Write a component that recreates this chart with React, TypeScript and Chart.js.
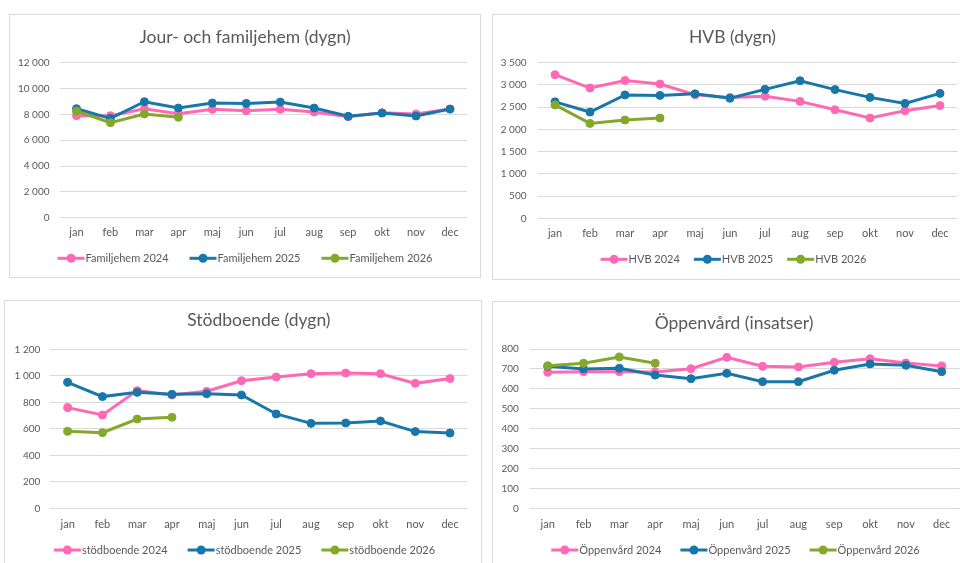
import React, { useEffect, useRef } from "react";
import { Chart, registerables } from "chart.js";

Chart.register(...registerables);

const months = ["jan", "feb", "mar", "apr", "maj", "jun", "jul", "aug", "sep", "okt", "nov", "dec"];

const fam2024 = [7900, 7900, 8440, 8050, 8390, 8280, 8390, 8180, 7820, 8130, 8030, 8410];
const fam2025 = [8440, 7690, 8980, 8490, 8880, 8850, 8950, 8490, 7850, 8100, 7870, 8410];
const fam2026 = [8260, 7350, 8030, 7770];

const hvb2024 = [3230, 2930, 3100, 3020, 2780, 2720, 2745, 2630, 2440, 2255, 2420, 2535];
const hvb2025 = [2620, 2390, 2775, 2765, 2800, 2700, 2900, 3095, 2895, 2720, 2585, 2810];
const hvb2026 = [2550, 2135, 2210, 2255];

const stod2024 = [760, 704, 888, 855, 883, 963, 991, 1016, 1021, 1016, 943, 979];
const stod2025 = [951, 843, 875, 860, 865, 855, 712, 641, 644, 659, 579, 568];
const stod2026 = [581, 571, 674, 687];

const opp2024 = [683, 686, 686, 685, 701, 758, 713, 710, 733, 751, 730, 715];
const opp2025 = [713, 700, 703, 669, 651, 678, 636, 636, 693, 725, 718, 686];
const opp2026 = [716, 728, 760, 728];

const PINK = "#ff69b4";
const BLUE = "#1877a8";
const GREEN = "#84a82a";
const COLORS = [PINK, BLUE, GREEN];
const TEXT = "#595959";
const GRID = "#d9d9d9";
const FONT = "Lato, 'Open Sans', sans-serif";

const TITLE_FS = 17.5;
const LEG_FS = 11;
const TICK_FS = 10;
const XTICK_FS = 11;
const X_AXIS_H = 26;
const LEG_LINE = 27;

function fmt(v: number | string) {
  return String(v).replace(/\B(?=(\d{3})+(?!\d))/g, " ");
}

type PanelCfg = {
  left: number; top: number; W: number; H: number;
  title: string; titleFull: boolean;
  labels: string[]; series: number[][]; seriesNames: string[];
  max: number; step: number;
  plotL: number; plotR: number; plotT: number; plotB: number;
  titleY: number; xLabelY: number; legendY: number; legendX: number; legendGap: number; yPad: number;
};

function Panel({ cfg }: { cfg: PanelCfg }) {
  const ref = useRef<HTMLCanvasElement>(null);
  useEffect(() => {
    const { W, H } = cfg;
    const padR = W - cfg.plotR;
    const titleLH = TITLE_FS * 1.2;
    const titlePadTop = cfg.titleY - titleLH / 2;
    const titlePadBottom = cfg.plotT - (cfg.titleY + titleLH / 2);
    const padB = H - cfg.plotB - X_AXIS_H;
    const xPad = cfg.xLabelY - cfg.plotB - (XTICK_FS * 1.2) / 2;

    const lineLegend = {
      id: "lineLegend",
      afterDraw(chart: any) {
        const ctx = chart.ctx as CanvasRenderingContext2D;
        ctx.save();
        ctx.font = `${LEG_FS}px ${FONT}`;
        const names = cfg.seriesNames;
        const widths = names.map((n) => ctx.measureText(n).width);
        const total =
          widths.reduce((a, w) => a + LEG_LINE + 1 + w, 0) + cfg.legendGap * (names.length - 1);
        let x = cfg.legendX - total / 2;
        const y = cfg.legendY;
        names.forEach((n, i) => {
          const c = COLORS[i];
          ctx.strokeStyle = c;
          ctx.lineWidth = 3;
          ctx.beginPath();
          ctx.moveTo(x, y);
          ctx.lineTo(x + LEG_LINE, y);
          ctx.stroke();
          ctx.fillStyle = c;
          ctx.beginPath();
          ctx.arc(x + LEG_LINE / 2, y, 4.5, 0, Math.PI * 2);
          ctx.fill();
          ctx.fillStyle = TEXT;
          ctx.textAlign = "left";
          ctx.textBaseline = "middle";
          ctx.fillText(n, x + LEG_LINE + 1, y);
          x += LEG_LINE + 1 + widths[i] + cfg.legendGap;
        });
        ctx.restore();
      },
    };

    const chart = new Chart(ref.current!, {
      type: "line",
      data: {
        labels: cfg.labels,
        datasets: cfg.series.map((d, i) => ({
          label: cfg.seriesNames[i],
          data: d,
          yAxisID: "y",
          borderColor: COLORS[i],
          backgroundColor: COLORS[i],
          pointBackgroundColor: COLORS[i],
          pointBorderColor: COLORS[i],
          borderWidth: 3,
          pointRadius: 4,
          pointBorderWidth: 1,
          tension: 0,
          order: 3 - i,
        })),
      },
      options: {
        animation: false,
        responsive: true,
        maintainAspectRatio: false,
        layout: { padding: { left: 0, right: 0, top: 0, bottom: padB } },
        scales: {
          x: {
            offset: true,
            grid: { display: false, drawTicks: false },
            border: { display: false },
            ticks: { color: TEXT, font: { family: FONT, size: XTICK_FS }, padding: xPad, maxRotation: 0, autoSkip: false },
            afterFit: (s: any) => { s.height = X_AXIS_H; },
          },
          y: {
            min: 0,
            max: cfg.max,
            grid: { color: GRID, lineWidth: 1, drawTicks: false },
            border: { display: false },
            ticks: {
              stepSize: cfg.step,
              color: TEXT,
              font: { family: FONT, size: TICK_FS },
              padding: cfg.yPad,
              callback: (v: any) => fmt(v),
            },
            afterFit: (s: any) => { s.width = cfg.plotL; },
          },
          yR: {
            position: "right",
            display: true,
            grid: { display: false, drawTicks: false },
            border: { display: false },
            ticks: { display: false },
            afterFit: (s: any) => { s.width = padR; },
          },
        },
        plugins: {
          tooltip: { enabled: false },
          legend: { display: false },
          title: {
            display: true,
            text: cfg.title,
            color: TEXT,
            fullSize: cfg.titleFull,
            font: { family: FONT, size: TITLE_FS, weight: "normal" },
            padding: { top: titlePadTop, bottom: titlePadBottom },
          },
        },
      } as any,
      plugins: [lineLegend],
    });
    return () => chart.destroy();
  }, []);
  return (
    <div
      style={{
        position: "absolute",
        left: cfg.left,
        top: cfg.top,
        width: cfg.W + 2,
        height: cfg.H + 2,
        border: `1px solid ${GRID}`,
        boxSizing: "border-box",
        background: "#fff",
      }}
    >
      <div style={{ position: "relative", width: cfg.W, height: cfg.H }}>
        <canvas ref={ref} />
      </div>
    </div>
  );
}

const panels: PanelCfg[] = [
  {
    left: 9, top: 14, W: 470, H: 262,
    title: "Jour- och familjehem (dygn)", titleFull: true,
    labels: months, series: [fam2024, fam2025, fam2026],
    seriesNames: ["Familjehem 2024", "Familjehem 2025", "Familjehem 2026"],
    max: 12000, step: 2000,
    plotL: 49.5, plotR: 457, plotT: 47.7, plotB: 202.7,
    titleY: 22, xLabelY: 217.7, legendY: 243.3, legendX: 235, legendGap: 21, yPad: 10,
  },
  {
    left: 492, top: 14, W: 479, H: 264,
    title: "HVB (dygn)", titleFull: true,
    labels: months, series: [hvb2024, hvb2025, hvb2026],
    seriesNames: ["HVB 2024", "HVB 2025", "HVB 2026"],
    max: 3500, step: 500,
    plotL: 44.5, plotR: 464.5, plotT: 47.7, plotB: 203.3,
    titleY: 22.3, xLabelY: 218.3, legendY: 244.3, legendX: 240.5, legendGap: 14, yPad: 11,
  },
  {
    left: 4, top: 300, W: 476, H: 270,
    title: "Stödboende (dygn)", titleFull: false,
    labels: months, series: [stod2024, stod2025, stod2026],
    seriesNames: ["stödboende 2024", "stödboende 2025", "stödboende 2026"],
    max: 1200, step: 200,
    plotL: 45.3, plotR: 462.4, plotT: 48.3, plotB: 207.3,
    titleY: 19, xLabelY: 223.3, legendY: 249, legendX: 239.5, legendGap: 20, yPad: 10,
  },
  {
    left: 492, top: 301, W: 482, H: 270,
    title: "Öppenvård (insatser)", titleFull: true,
    labels: months, series: [opp2024, opp2025, opp2026],
    seriesNames: ["Öppenvård 2024", "Öppenvård 2025", "Öppenvård 2026"],
    max: 800, step: 100,
    plotL: 36.8, plotR: 466.6, plotT: 47, plotB: 206.3,
    titleY: 21, xLabelY: 222, legendY: 248, legendX: 242.5, legendGap: 19, yPad: 11,
  },
];

export default function App() {
  return (
    <div
      style={{
        position: "absolute",
        left: 0,
        top: 0,
        width: 960,
        height: 563,
        overflow: "hidden",
        background: "#fff",
      }}
    >
      {panels.map((p, i) => (
        <Panel key={i} cfg={p} />
      ))}
    </div>
  );
}
